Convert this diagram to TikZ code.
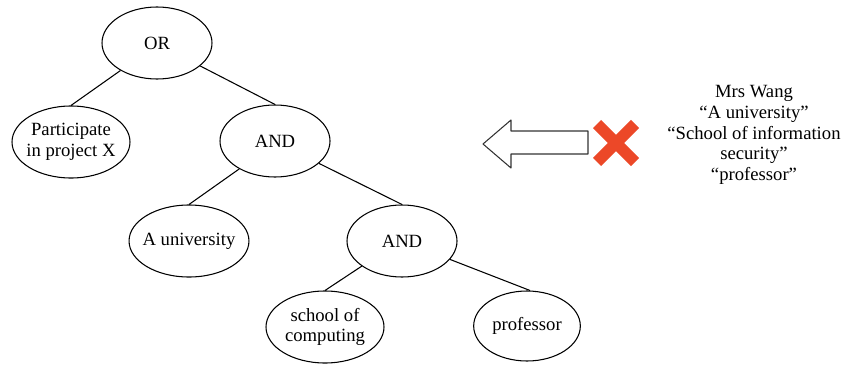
\documentclass[tikz,border=0pt]{standalone}
\usepackage{fontspec}
\setmainfont{Liberation Serif}
\usetikzlibrary{shapes.geometric, calc}
\definecolor{crossred}{RGB}{236,72,40}
\begin{document}
\begin{tikzpicture}[line join=round, x=0.75pt, y=-0.75pt,
	every node/.style={font=\fontsize{14}{15.5}\selectfont},
	gate/.style={draw, ellipse, line width=0.8pt, inner sep=0pt, minimum width=82.5pt, minimum height=54pt, align=center},
	leaf/.style={gate, inner xsep=-3pt, minimum width=88.5pt},
	edge/.style={line width=0.8pt}]
	\useasboundingbox (0,0) rectangle (842,364);
	
	% tree
	\node[gate] (or) at (157,43) {OR};
	\node[leaf] (proj) at (71,142) {Participate\\in project X};
	\node[gate] (and1) at (275,141) {AND};
	\node[leaf] (univ) at (189,241) {A university};
	\node[gate] (and2) at (402,241) {AND};
	\node[leaf] (school) at (325,327) {school of\\computing};
	\node[gate, minimum width=80pt, minimum height=52.5pt] (prof) at (527,326) {professor};
	
	\draw[edge] (or.-143) -- (proj.north);
	\draw[edge] (or.-28) -- (and1.north);
	\draw[edge] (and1.-142) -- (univ.north);
	\draw[edge] (and1.-27) -- (and2.north);
	\draw[edge] (and2.-148) -- (school.north);
	\draw[edge] (and2.-21) -- (prof.85);
	
	% block arrow
	\coordinate (tip) at (483,144);
	\draw[line width=0.8pt, black!80] (tip) -- (511,120) -- (511,131) -- (588,131) -- (588,154) -- (511,154) -- (511,168) -- cycle;
	
	% red cross
	\coordinate (X) at (616,143);
	\def\crs{19}
	\draw[crossred, line width=8.5pt, line cap=butt] ($(X)+(-\crs,-\crs)$) -- ($(X)+(\crs,\crs)$);
	\draw[crossred, line width=8.5pt, line cap=butt] ($(X)+(-\crs,\crs)$) -- ($(X)+(\crs,-\crs)$);
	
	\node[align=center] (attr) at (754,135) {Mrs Wang\\``A university''\\``School of information\\security''\\``professor''};
\end{tikzpicture}
\end{document}
